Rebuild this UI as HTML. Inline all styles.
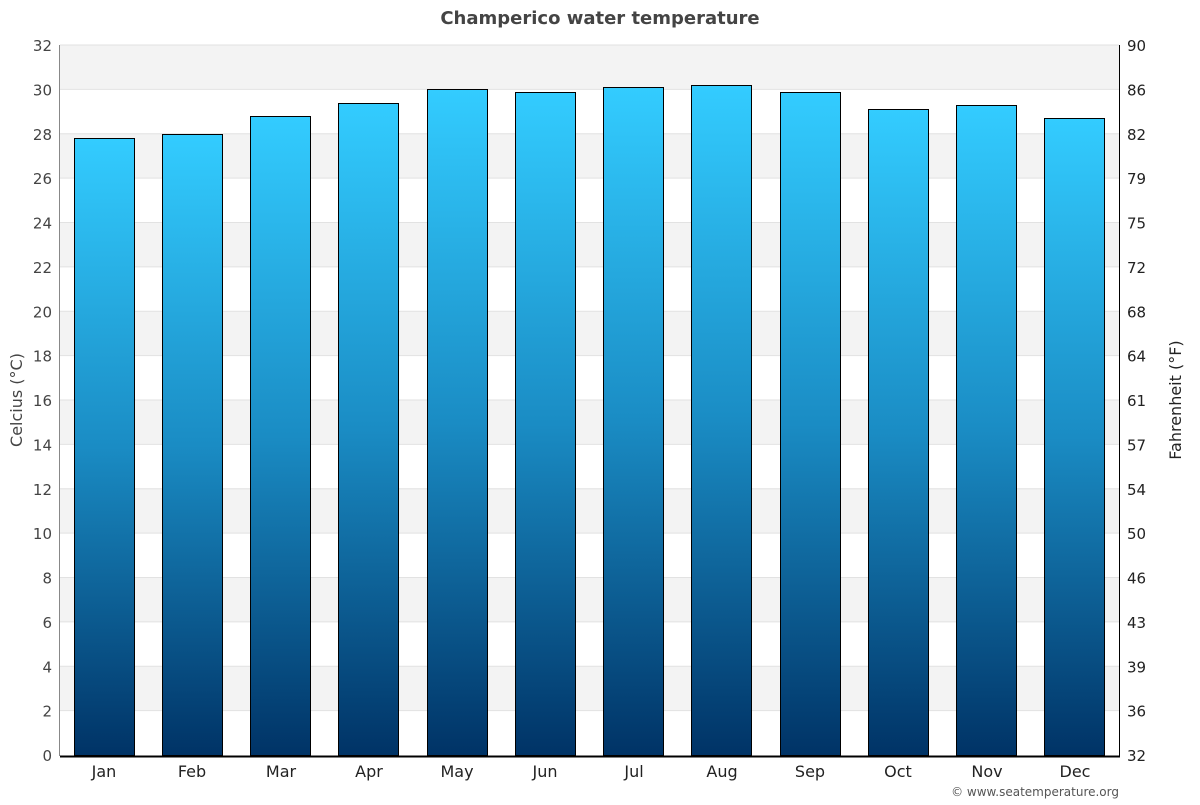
<!DOCTYPE html>
<html><head><meta charset="utf-8"><style>
html,body{margin:0;padding:0;background:#fff;}
svg text{font-family:"DejaVu Sans","Liberation Sans",sans-serif;}
</style></head><body>
<svg width="1200" height="800" xmlns="http://www.w3.org/2000/svg">
<defs>
<linearGradient id="g" x1="0" y1="0" x2="0" y2="1">
<stop offset="0" stop-color="#33ccff"/>
<stop offset="0.5" stop-color="#1a8cc4"/>
<stop offset="1" stop-color="#003366"/>
</linearGradient>
</defs>
<rect width="1200" height="800" fill="#fff"/>
<g fill="#f3f3f3">
<rect x="60" y="45" width="1059" height="44.375"/>
<rect x="60" y="133.75" width="1059" height="44.375"/>
<rect x="60" y="222.5" width="1059" height="44.375"/>
<rect x="60" y="311.25" width="1059" height="44.375"/>
<rect x="60" y="400" width="1059" height="44.375"/>
<rect x="60" y="488.75" width="1059" height="44.375"/>
<rect x="60" y="577.5" width="1059" height="44.375"/>
<rect x="60" y="666.25" width="1059" height="44.375"/>
</g>
<g stroke="#e2e2e2" stroke-width="1">
<line x1="60" x2="1119" y1="45" y2="45"/><line x1="60" x2="1119" y1="89.4" y2="89.4"/>
<line x1="60" x2="1119" y1="133.75" y2="133.75"/><line x1="60" x2="1119" y1="178.1" y2="178.1"/>
<line x1="60" x2="1119" y1="222.5" y2="222.5"/><line x1="60" x2="1119" y1="266.9" y2="266.9"/>
<line x1="60" x2="1119" y1="311.25" y2="311.25"/><line x1="60" x2="1119" y1="355.6" y2="355.6"/>
<line x1="60" x2="1119" y1="400" y2="400"/><line x1="60" x2="1119" y1="444.4" y2="444.4"/>
<line x1="60" x2="1119" y1="488.75" y2="488.75"/><line x1="60" x2="1119" y1="533.1" y2="533.1"/>
<line x1="60" x2="1119" y1="577.5" y2="577.5"/><line x1="60" x2="1119" y1="621.9" y2="621.9"/>
<line x1="60" x2="1119" y1="666.25" y2="666.25"/><line x1="60" x2="1119" y1="710.6" y2="710.6"/>
</g>
<g font-size="15" fill="#444" text-anchor="end">
<text x="52" y="761">0</text><text x="52" y="716.6">2</text><text x="52" y="672.3">4</text>
<text x="52" y="627.9">6</text><text x="52" y="583.5">8</text><text x="52" y="539.1">10</text>
<text x="52" y="494.8">12</text><text x="52" y="450.4">14</text><text x="52" y="406">16</text>
<text x="52" y="361.6">18</text><text x="52" y="317.3">20</text><text x="52" y="272.9">22</text>
<text x="52" y="228.5">24</text><text x="52" y="184.1">26</text><text x="52" y="139.8">28</text>
<text x="52" y="95.4">30</text><text x="52" y="51">32</text>
</g>
<g font-size="15" fill="#222">
<text x="1127" y="761">32</text><text x="1127" y="716.6">36</text><text x="1127" y="672.3">39</text>
<text x="1127" y="627.9">43</text><text x="1127" y="583.5">46</text><text x="1127" y="539.1">50</text>
<text x="1127" y="494.8">54</text><text x="1127" y="450.4">57</text><text x="1127" y="406">61</text>
<text x="1127" y="361.6">64</text><text x="1127" y="317.3">68</text><text x="1127" y="272.9">72</text>
<text x="1127" y="228.5">75</text><text x="1127" y="184.1">79</text><text x="1127" y="139.8">82</text>
<text x="1127" y="95.4">86</text><text x="1127" y="51">90</text>
</g>
<g fill="url(#g)" stroke="#000" stroke-width="1">
<rect x="74.5" y="138.5" width="60" height="617"/>
<rect x="162.5" y="134.5" width="60" height="621"/>
<rect x="250.5" y="116.5" width="60" height="639"/>
<rect x="338.5" y="103.5" width="60" height="652"/>
<rect x="427.5" y="89.5" width="60" height="666"/>
<rect x="515.5" y="92.5" width="60" height="663"/>
<rect x="603.5" y="87.5" width="60" height="668"/>
<rect x="691.5" y="85.5" width="60" height="670"/>
<rect x="780.5" y="92.5" width="60" height="663"/>
<rect x="868.5" y="109.5" width="60" height="646"/>
<rect x="956.5" y="105.5" width="60" height="650"/>
<rect x="1044.5" y="118.5" width="60" height="637"/>
</g>
<g font-size="16" fill="#222" text-anchor="middle">
<text x="104" y="777">Jan</text><text x="192" y="777">Feb</text><text x="281" y="777">Mar</text>
<text x="369" y="777">Apr</text><text x="457" y="777">May</text><text x="545" y="777">Jun</text>
<text x="634" y="777">Jul</text><text x="722" y="777">Aug</text><text x="810" y="777">Sep</text>
<text x="898" y="777">Oct</text><text x="987" y="777">Nov</text><text x="1075" y="777">Dec</text>
</g>
<line x1="59.5" x2="59.5" y1="45" y2="756" stroke="#888" stroke-width="1"/>
<line x1="1119.5" x2="1119.5" y1="45" y2="756" stroke="#000" stroke-width="1"/>
<line x1="60" x2="1120" y1="756.5" y2="756.5" stroke="#000" stroke-width="2"/>
<text x="600" y="24" text-anchor="middle" font-size="18" font-weight="bold" fill="#444">Champerico water temperature</text>
<text transform="translate(22,400) rotate(-90)" text-anchor="middle" font-size="16" fill="#444">Celcius (°C)</text>
<text transform="translate(1181,400) rotate(-90)" text-anchor="middle" font-size="16" fill="#222">Fahrenheit (°F)</text>
<text x="1119" y="796" text-anchor="end" font-size="12" fill="#555">© www.seatemperature.org</text>
</svg>
</body></html>
